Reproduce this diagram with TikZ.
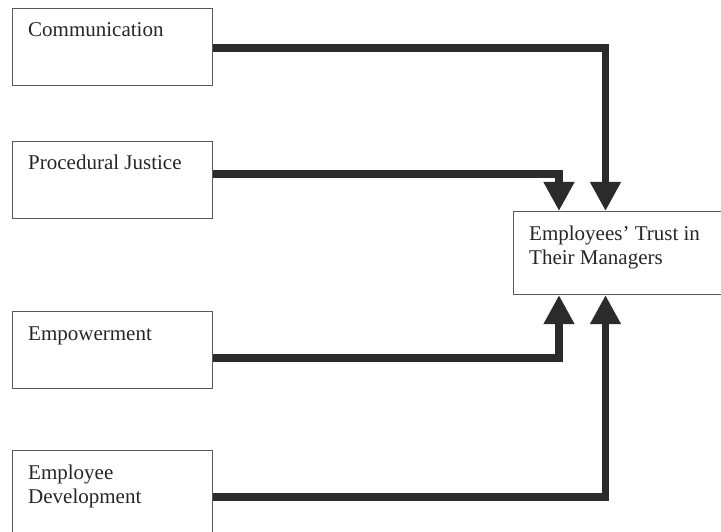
\documentclass[tikz,border=0pt]{standalone}
\usepackage{fontspec}
\setmainfont{Liberation Serif}
\usetikzlibrary{positioning, arrows.meta}

\begin{document}
\begin{tikzpicture}[x=1pt, y=-1pt]
  \newcommand\txtinset{16pt}
  \newcommand\innerx{46pt}
  \newcommand\outerx{92.5pt}

  \tikzset{factorbox/.style={draw=black!65, line width=1.1pt, minimum width=200pt, minimum height=77pt, inner sep=0pt}}
  \tikzset{factortext/.style={anchor=base west, inner sep=0pt, align=left, font=\fontsize{21}{24.5}\selectfont, text=black!85}}
  \tikzset{link/.style={-{Triangle[width=29pt, length=29pt]}, line width=7.5pt, draw=black!83}}

  \useasboundingbox (0,0) rectangle (721,532);

  % factors
  \node[factorbox, anchor=north west] at (12,8) (comm) {};
  \node[factorbox, below=55pt of comm] (proc) {};
  \node[factorbox, below=92pt of proc] (emp) {};
  \node[factorbox, below=61pt of emp, minimum height=92pt] (dev) {};

  % outcome
  \node[factorbox, anchor=north west, minimum width=220pt, minimum height=83pt] at (513,211) (trust) {};

  % base of the last line
  \foreach \fac/\txt/\drop in {comm/Communication/29pt, proc/Procedural Justice/28.5pt, emp/Empowerment/29pt, dev/{Employee\\Development}/53.5pt, trust/{Employees' Trust in\\Their Managers}/54pt}{
    \node[factortext] at ([shift={(\txtinset,-\drop)}]\fac.north west) (\fac-txt) {\txt};
  }

  \coordinate (trust-na) at ([xshift=\innerx]trust.north west);
  \coordinate (trust-nb) at ([xshift=\outerx]trust.north west);
  \coordinate (trust-sa) at ([xshift=\innerx]trust.south west);
  \coordinate (trust-sb) at ([xshift=\outerx]trust.south west);

  % links
  \draw[link] ([yshift=-1pt]comm.east) -| (trust-nb);
  \draw[link] ([yshift=6pt]proc.east) -| (trust-na);
  \draw[link] ([yshift=-7.5pt]emp.east) -| (trust-sa);
  \draw[link] (dev.east) -| (trust-sb);
\end{tikzpicture}
\end{document}
